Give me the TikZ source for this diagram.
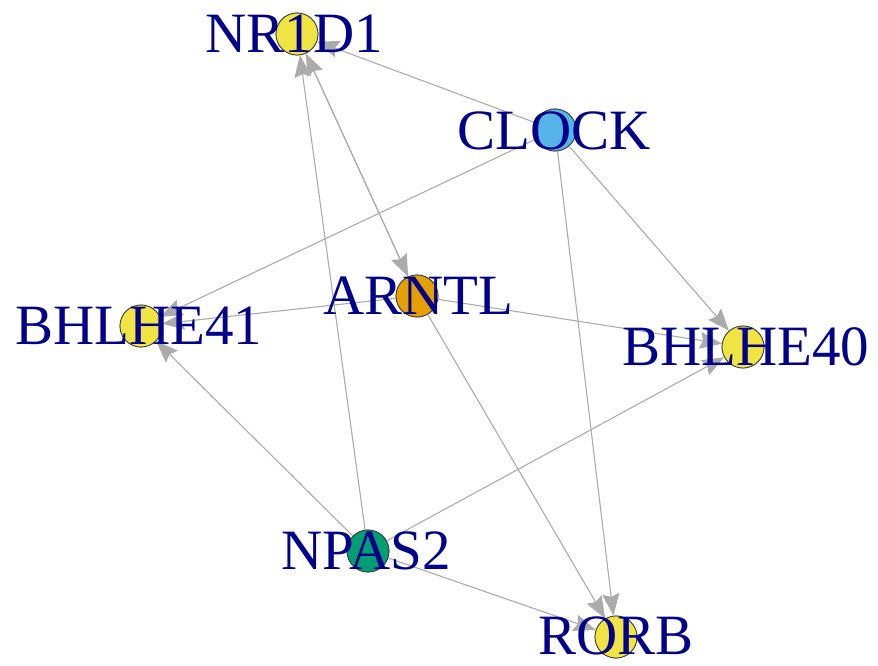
\documentclass[tikz,border=0pt]{standalone}
\usepackage{fontspec}
\setmainfont{Liberation Serif}
\usetikzlibrary{arrows.meta}
\definecolor{vyellow}{HTML}{F0E442}
\definecolor{vblue}{HTML}{56B4E9}
\definecolor{vorange}{HTML}{E69F00}
\definecolor{vgreen}{HTML}{009E73}
\definecolor{lblblue}{HTML}{00008B}
\definecolor{edgegray}{HTML}{ABABAB}
\tikzset{
  vert/.style={circle, draw=black!75, line width=0.8pt, minimum size=42pt, inner sep=0pt},
  lbl/.style={text=lblblue, font=\fontsize{57}{60}\selectfont, inner sep=0pt},
  gedge/.style={draw=edgegray, line width=1.1pt, -{Stealth[length=22pt,width=17pt,inset=3pt,fill=edgegray]}},
}
\begin{document}
\begin{tikzpicture}[x=1pt,y=-1pt]
\useasboundingbox (0,0) rectangle (878,666);
% vertices
\node[vert, fill=vyellow] (nr1d1) at (297,34) {};
\node[vert, fill=vblue] (clock) at (555,130) {};
\node[vert, fill=vorange] (arntl) at (417,296) {};
\node[vert, fill=vyellow] (bhlhe41) at (141,326) {};
\node[vert, fill=vyellow] (bhlhe40) at (743,347) {};
\node[vert, fill=vgreen] (npas2) at (368,551) {};
\node[vert, fill=vyellow] (rorb) at (616,637) {};
% edges
\path[gedge] (clock) -- (nr1d1);
\path[gedge] (clock) -- (bhlhe41);
\path[gedge] (clock) -- (bhlhe40);
\path[gedge] (clock) -- (rorb);
\path[gedge] (nr1d1) -- (arntl);
\path[gedge] (arntl) -- (nr1d1);
\path[gedge] (arntl) -- (bhlhe41);
\path[gedge] (arntl) -- (bhlhe40);
\path[gedge] (arntl) -- (rorb);
\path[gedge] (npas2) -- (nr1d1);
\path[gedge] (npas2) -- (bhlhe41);
\path[gedge] (npas2) -- (bhlhe40);
\path[gedge] (npas2) -- (rorb);
% redraw vertices on top of edges
\node[vert, fill=vyellow] (nr1d1b) at (nr1d1) {};
\node[vert, fill=vblue] (clockb) at (clock) {};
\node[vert, fill=vorange] (arntlb) at (arntl) {};
\node[vert, fill=vyellow] (bhlhe41b) at (bhlhe41) {};
\node[vert, fill=vyellow] (bhlhe40b) at (bhlhe40) {};
\node[vert, fill=vgreen] (npas2b) at (npas2) {};
\node[vert, fill=vyellow] (rorbb) at (rorb) {};
% labels
\node[lbl] (lnr1d1) at (294,34) {NR1D1};
\node[lbl] (lclock) at (554,131) {CLOCK};
\node[lbl] (larntl) at (418,296) {ARNTL};
\node[lbl] (lbhlhe41) at (139,326) {BHLHE41};
\node[lbl] (lbhlhe40) at (746,347) {BHLHE40};
\node[lbl] (lnpas2) at (366,551) {NPAS2};
\node[lbl] (lrorb) at (616,636) {RORB};
\end{tikzpicture}
\end{document}
